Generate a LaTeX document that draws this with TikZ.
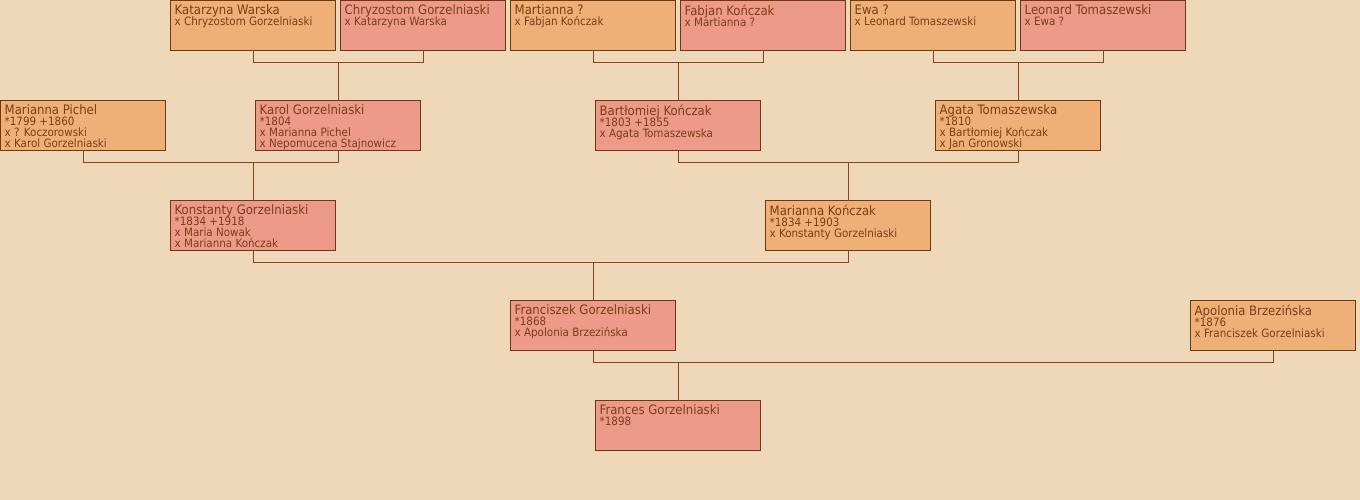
\documentclass[tikz,border=0pt]{standalone}
\usepackage{fontspec}
\setmainfont{DejaVu Sans Condensed}
\definecolor{bgc}{HTML}{EED8B9}
\definecolor{womanc}{HTML}{EEB077}
\definecolor{manc}{HTML}{EE9A8A}
\definecolor{framec}{HTML}{6B3A10}
\definecolor{linkc}{HTML}{8B4513}
\definecolor{txtc}{HTML}{7A3F16}
\newcommand{\nm}[1]{{\fontsize{13}{11}\selectfont #1}}
\lineskiplimit=-20pt
\tikzset{
  person/.style={draw=framec, line width=1pt, minimum width=165pt, minimum height=50pt,
    anchor=north west, inner sep=0pt, outer sep=0pt},
  woman/.style={person, fill=womanc},
  man/.style={person, fill=manc},
  info/.style={anchor=north west, xshift=4pt, yshift=-4pt, inner sep=0pt, align=left,
    text=txtc, font=\fontsize{11.5}{11}\selectfont},
  link/.style={draw=linkc, line width=1pt}
}
\begin{document}
\begin{tikzpicture}[x=1pt,y=-1pt]
\fill[bgc] (0,0) rectangle (1360,500);
\useasboundingbox (0,0) rectangle (1360,500);
\begin{scope}[shift={(0.5,0.5)}]
% great-grandparents
\node[woman, label={[info]north west:{\nm{Katarzyna Warska}\\x Chryzostom Gorzelniaski}}] (kw) at (170,0) {};
\node[man, label={[info]north west:{\nm{Chryzostom Gorzelniaski}\\x Katarzyna Warska}}] (cg) at (340,0) {};
\node[woman, label={[info]north west:{\nm{Martianna ?}\\x Fabjan Kończak}}] (mq) at (510,0) {};
\node[man, label={[info]north west:{\nm{Fabjan Kończak}\\x Martianna ?}}] (fk) at (680,0) {};
\node[woman, label={[info]north west:{\nm{Ewa ?}\\x Leonard Tomaszewski}}] (eq) at (850,0) {};
\node[man, label={[info]north west:{\nm{Leonard Tomaszewski}\\x Ewa ?}}] (lt) at (1020,0) {};
% grandparents
\node[woman, label={[info]north west:{\nm{Marianna Pichel}\\{*}1799 +1860\\x ? Koczorowski\\x Karol Gorzelniaski}}] (mp) at (0,100) {};
\node[man, label={[info]north west:{\nm{Karol Gorzelniaski}\\{*}1804\\x Marianna Pichel\\x Nepomucena Stajnowicz}}] (kg) at (255,100) {};
\node[man, label={[info]north west:{\nm{Bartłomiej Kończak}\\{*}1803 +1855\\x Agata Tomaszewska}}] (bk) at (595,100) {};
\node[woman, label={[info]north west:{\nm{Agata Tomaszewska}\\{*}1810\\x Bartłomiej Kończak\\x Jan Gronowski}}] (at) at (935,100) {};
% parents
\node[man, label={[info]north west:{\nm{Konstanty Gorzelniaski}\\{*}1834 +1918\\x Maria Nowak\\x Marianna Kończak}}] (kog) at (170,200) {};
\node[woman, label={[info]north west:{\nm{Marianna Kończak}\\{*}1834 +1903\\x Konstanty Gorzelniaski}}] (mk) at (765,200) {};
\node[man, label={[info]north west:{\nm{Franciszek Gorzelniaski}\\{*}1868\\x Apolonia Brzezińska}}] (fg) at (510,300) {};
\node[woman, label={[info]north west:{\nm{Apolonia Brzezińska}\\{*}1876\\x Franciszek Gorzelniaski}}] (ab) at (1190,300) {};
\node[man, label={[info]north west:{\nm{Frances Gorzelniaski}\\{*}1898}}] (frg) at (595,400) {};
% links
\draw[link] (kw.south) -- ++(0,12) -| (cg.south);
\draw[link] (kg.north) -- ++(0,-38);
\draw[link] (mq.south) -- ++(0,12) -| (fk.south);
\draw[link] (bk.north) -- ++(0,-38);
\draw[link] (eq.south) -- ++(0,12) -| (lt.south);
\draw[link] (at.north) -- ++(0,-38);
\draw[link] (mp.south) -- ++(0,12) -| (kg.south);
\draw[link] (kog.north) -- ++(0,-38);
\draw[link] (bk.south) -- ++(0,12) -| (at.south);
\draw[link] (mk.north) -- ++(0,-38);
\draw[link] (kog.south) -- ++(0,12) -| (mk.south);
\draw[link] (fg.north) -- ++(0,-38);
\draw[link] (fg.south) -- ++(0,12) -| (ab.south);
\draw[link] (frg.north) -- ++(0,-38);
\end{scope}
\end{tikzpicture}
\end{document}
